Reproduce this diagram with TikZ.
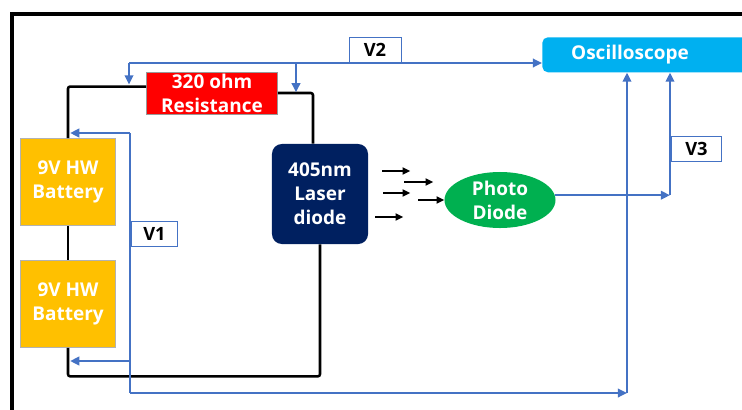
\documentclass[tikz,border=0pt]{standalone}
\usepackage{fontspec}
\setmainfont{Open Sans}
\usetikzlibrary{positioning,shapes.geometric,arrows.meta,calc}
\definecolor{battyellow}{HTML}{FFC000}
\definecolor{resred}{HTML}{FF0000}
\definecolor{lasernavy}{HTML}{002060}
\definecolor{pdgreen}{HTML}{00B050}
\definecolor{scopeblue}{HTML}{00B0F0}
\definecolor{sigblue}{HTML}{4472C4}

\begin{document}
\begin{tikzpicture}[x=0.025cm, y=-0.025cm,
    boxtext/.style={font=\bfseries\fontsize{13.5}{17}\selectfont, text=white, align=center, inner sep=0pt},
    battbox/.style={boxtext, fill=battyellow, draw=black!30, line width=0.5pt, minimum width=2.375cm, minimum height=2.175cm},
    resbox/.style={boxtext, fill=resred, draw=black!40, line width=0.5pt, minimum width=3.275cm, minimum height=1.05cm},
    laserbox/.style={boxtext, fill=lasernavy, rounded corners=7pt, minimum width=2.4cm, minimum height=2.5cm},
    pdnode/.style={boxtext, ellipse, fill=pdgreen, minimum width=2.775cm, minimum height=1.4cm},
    scopebox/.style={fill=scopeblue, rounded corners=4pt, minimum width=5.45cm, minimum height=0.875cm, inner sep=0pt},
    vlabel/.style={draw=sigblue, line width=0.6pt, fill=white, font=\bfseries\fontsize{13}{15}\selectfont, minimum height=0.625cm, inner sep=0pt},
    wire/.style={line width=1.8pt, black, rounded corners=1.5pt},
    sig/.style={line width=1.6pt, sigblue},
    sigarrow/.style={sig, -{Triangle[length=6.5pt,width=6pt]}},
    beam/.style={line width=1.5pt, -{Triangle[length=5.5pt,width=5pt]}}]

\clip (0,0) rectangle (742,409);

% Frame
\draw[line width=3pt] (12,430) -- (12,14) -- (770,14);

% Components
\node[resbox] (res) at (212,93) {320 ohm\\Resistance};
\node[battbox] (bat1) at (68,182) {9V HW\\Battery};
\node[battbox] (bat2) at (68,304) {9V HW\\Battery};
\node[laserbox] (laser) at (320,194) {405nm\\Laser\\diode};
\node[pdnode] (pd) at (500,200) {Photo\\Diode};
\node[scopebox, anchor=north west] (osc) at (542,37) {};
\node[boxtext] (osclbl) at (630,55) {Oscilloscope};

% Circuit wires
\coordinate (rwl) at ($(res.north west)!0.35!(res.south west)$);
\draw[wire] (bat1.north) |- (rwl);
\draw[wire] (res.east) -| ($(laser.north)+(-7,0)$);
\draw[wire] (bat1.south) -- (bat2.north);
\draw[wire] (bat2.south) |- ($(laser.south)+(0,132)$) -- (laser.south);

% Laser beams
\foreach \dx/\dy/\len in {14/-23/28, 36/-12/29, 15/-1/27, 50/6/26, 7/23/28}
    \draw[beam] ($(laser.east)+(\dx,\dy)$) -- ++(\len,0);

% V2 probe
\coordinate (v2l) at (129,63);
\coordinate (v2r) at (296,63);
\draw[sigarrow] (v2l) -- (osc.west |- v2l);
\draw[sigarrow, shorten >=1.5pt] (v2l) -- (v2l |- rwl);
\draw[sigarrow, shorten >=0.5pt] (v2r) -- (v2r |- res.east);
\node[vlabel, minimum width=1.3cm, anchor=south] (v2) at (375,63) {V2};

% V1 probe
\coordinate (v1t) at (130,133);
\coordinate (v1m) at (130,361);
\coordinate (v1b) at (130,393);
\coordinate (v1c) at (627,393);
\draw[sig] (v1t) -- (v1b);
\draw[sigarrow, shorten >=1.5pt] (v1t) -- (bat1.north |- v1t);
\draw[sigarrow, shorten >=1.5pt] (v1m) -- (bat2.south |- v1m);
\draw[sigarrow] (v1b) -- (v1c);
\draw[sigarrow] (v1c) -- (osc.south -| v1c);
\node[vlabel, minimum width=1.15cm, anchor=west] (v1) at (131,233.5) {V1};

% V3 probe
\coordinate (v3c) at (670,195);
\draw[sigarrow] (pd.5) -- (pd.5 -| v3c);
\draw[sigarrow] (pd.5 -| v3c) -- (osc.south -| v3c);
\node[vlabel, minimum width=1.25cm, anchor=west] (v3) at (671,148.5) {V3};

\end{tikzpicture}
\end{document}
